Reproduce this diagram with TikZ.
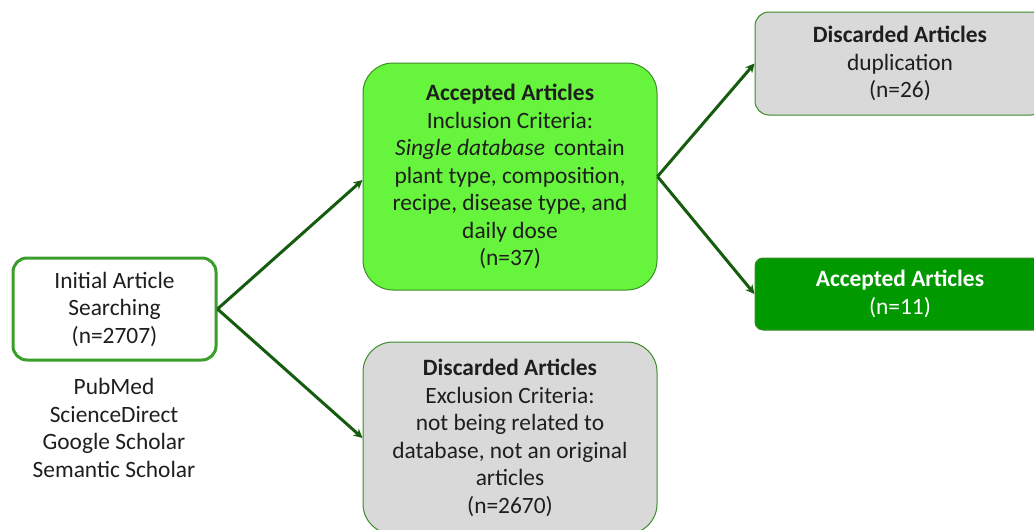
\documentclass[tikz,border=0pt]{standalone}
\usepackage{fontspec}
\setmainfont{Carlito}
\usetikzlibrary{arrows.meta}
\definecolor{txt}{RGB}{30,30,30}
\definecolor{initborder}{RGB}{58,158,42}
\definecolor{brightgreen}{RGB}{102,245,60}
\definecolor{thinborder}{RGB}{60,140,40}
\definecolor{greyfill}{RGB}{217,217,217}
\definecolor{darkfill}{RGB}{0,154,0}
\definecolor{arrowgreen}{RGB}{22,92,14}
\begin{document}
\begin{tikzpicture}[x=1pt,y=-1pt,
  box/.style={rectangle, align=center, font=\fontsize{23.4}{27.5}\selectfont, text=txt, inner sep=0pt},
  conn/.style={draw=arrowgreen, line width=3pt, -{Stealth[length=9pt,width=9pt]}},
]
\useasboundingbox (0,0) rectangle (1034,530);
\clip (0,0) rectangle (1034,530);

\node[box, draw=initborder, line width=3pt, fill=white, minimum width=203pt, minimum height=102pt, rounded corners=14pt] (init) at (114.5,309) {Initial Article\\Searching\\(n=2707)};

\node[box] (src) at (114,428) {PubMed\\ScienceDirect\\Google Scholar\\Semantic Scholar};

\node[box, draw=thinborder, line width=1pt, fill=brightgreen, minimum width=294pt, minimum height=227pt, rounded corners=30pt] (mid) at (510,176.5) {\textbf{Accepted Articles}\\Inclusion Criteria:\\\textit{Single database}\, contain\\plant type, composition,\\recipe, disease type, and\\daily dose\\(n=37)};

\node[box, draw=thinborder, line width=1pt, fill=greyfill, minimum width=294pt, minimum height=192pt, rounded corners=30pt] (exc) at (510,438) {\textbf{Discarded Articles}\\Exclusion Criteria:\\not being related to\\database, not an original\\articles\\(n=2670)};

\node[box, draw=thinborder, line width=1pt, fill=greyfill, minimum width=290pt, minimum height=103pt, rounded corners=14pt] (dup) at (900,63.5) {\textbf{Discarded Articles}\\duplication\\(n=26)};

\node[box, draw=thinborder, line width=1pt, fill=darkfill, text=white, minimum width=290pt, minimum height=72pt, rounded corners=8pt] (fin) at (900,294) {\textbf{Accepted Articles}\\(n=11)};

\draw[conn] (init.east) -- (mid.west |- 0,180);
\draw[conn] (init.east) -- (exc.west);
\draw[conn] (mid.east) -- (dup.west);
\draw[conn] (mid.east) -- (fin.west);
\end{tikzpicture}
\end{document}
